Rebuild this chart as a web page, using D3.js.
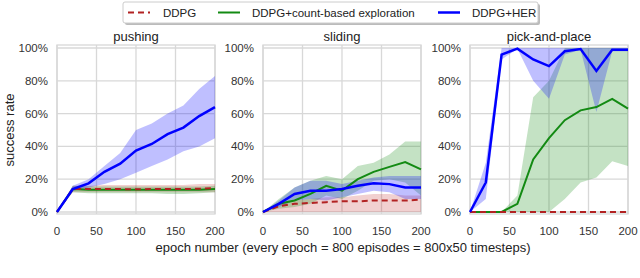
<!DOCTYPE html>
<html>
<head>
<meta charset="utf-8">
<script src="https://cdn.jsdelivr.net/npm/d3@7"></script>
<style>
  body { margin: 0; background: #fff; }
  svg { display: block; font-family: "Liberation Sans", Arial, sans-serif; }
</style>
</head>
<body>
<div id="chart"></div>
<script>
// epochs sampled every 20
const epochs = [0, 20, 40, 60, 80, 100, 120, 140, 160, 180, 200];
const xTicks = [0, 50, 100, 150, 200];
const yTicks = [0, 0.2, 0.4, 0.6, 0.8, 1.0];
const taskNames = ['pushing', 'sliding', 'pick-and-place'];
const seriesNames = ['DDPG', 'DDPG+count-based exploration', 'DDPG+HER'];

// pushing
const pushDdpg      = [0, 14, 14, 14, 14, 13.8, 14, 14, 14, 14.2, 14.5];
const pushDdpgLo    = [0, 12, 12, 12, 12, 12, 12, 12, 12, 12, 12];
const pushDdpgHi    = [0, 16, 16, 16.5, 16.5, 16.5, 16.5, 16.5, 16.5, 17, 17];
const pushCount     = [0, 14, 13.5, 13.5, 13.5, 13.5, 13.5, 13.5, 13.5, 13.5, 14];
const pushCountLo   = [0, 12, 11.5, 11.5, 11.5, 11.5, 11.5, 11, 11, 11.5, 12];
const pushCountHi   = [0, 16, 15.5, 15.5, 15.5, 15.5, 15.5, 15.5, 15.5, 15.5, 16];
const pushHer       = [0, 14, 17.5, 24.5, 29.5, 37.5, 41.5, 47.5, 51.5, 58.5, 64];
const pushHerLo     = [0, 13, 15, 17, 20, 24, 28, 32, 37, 40, 45];
const pushHerHi     = [0, 16, 20, 28, 36, 50, 54, 60, 65, 75, 83];

// sliding
const slideDdpg     = [0, 3.5, 5, 5.5, 6, 6.5, 6.5, 7, 7, 7, 7.5];
const slideDdpgLo   = [0, 0, 0, 0, 0, 0, 0, 0, 0, 0, 0];
const slideDdpgHi   = [0, 5, 7, 8, 9, 9, 10, 11, 11, 10, 10];
const slideCount    = [0, 5, 7, 11, 16, 13, 20, 24.5, 27.5, 30.5, 26];
const slideCountLo  = [0, 2, 3, 5, 10, 8, 13, 19, 20, 18, 10];
const slideCountHi  = [0, 8, 15, 19, 22, 20, 28, 30, 35, 43, 43];
const slideHer      = [0, 5, 11, 13, 13, 14, 16, 17.5, 17, 15, 15];
const slideHerLo    = [0, 3, 7, 8, 7, 9, 11, 13, 12, 8, 8];
const slideHerHi    = [0, 7, 15, 19, 19, 17, 19, 21, 22, 22, 22];

// pick-and-place
const pickDdpg      = [0, 0, 0, 0, 0, 0, 0, 0, 0, 0, 0];
const pickDdpgLo    = [0, 0, 0, 0, 0, 0, 0, 0, 0, 0, 0];
const pickDdpgHi    = [0, 0, 0, 0, 0, 0, 0, 0, 0, 0, 0];
const pickCount     = [0, 0, 0, 5, 32, 45, 56, 62, 64, 69, 63];
const pickCountLo   = [0, 0, 0, 0, 0, 0, 8, 18, 21, 31, 28];
const pickCountHi   = [0, 0, 0, 10, 70, 80, 100, 100, 100, 100, 100];
const pickHer       = [0, 18, 96, 99.6, 93, 89, 98, 99.4, 86, 99, 99];
const pickHerLo     = [0, 8, 93, 99.5, 80, 69, 96, 99, 61, 98, 98];
const pickHerHi     = [0, 30, 100, 100, 100, 100, 100, 100, 100, 100, 100];

const panels = [
  [[pushDdpg, pushDdpgLo, pushDdpgHi], [pushCount, pushCountLo, pushCountHi], [pushHer, pushHerLo, pushHerHi]],
  [[slideDdpg, slideDdpgLo, slideDdpgHi], [slideCount, slideCountLo, slideCountHi], [slideHer, slideHerLo, slideHerHi]],
  [[pickDdpg, pickDdpgLo, pickDdpgHi], [pickCount, pickCountLo, pickCountHi], [pickHer, pickHerLo, pickHerHi]]
];

const lineColors = ['#b22222', '#138a13', '#0000ff'];
const fillColors = ['rgba(190,40,40,0.22)', 'rgba(20,140,20,0.25)', 'rgba(0,0,255,0.25)'];
const lineWidths = [2, 2, 2.5];

const W = 640, H = 278;
const svg = d3.select('#chart').append('svg').attr('width', W).attr('height', H);

const panelLeft = [57, 263, 470];
const panelW = 158;
const y = d3.scaleLinear().domain([0, 1]).range([212, 48]);
const grid = '#d8d8d8';

panelLeft.forEach((left, p) => {
  const x = d3.scaleLinear().domain([0, 200]).range([left, left + panelW]);
  const g = svg.append('g');

  // gridlines
  g.selectAll('.gy').data(yTicks).enter().append('line')
    .attr('x1', left).attr('x2', left + panelW)
    .attr('y1', d => y(d)).attr('y2', d => y(d))
    .attr('stroke', grid).attr('stroke-width', 1.3);
  g.selectAll('.gx').data(xTicks).enter().append('line')
    .attr('x1', d => x(d)).attr('x2', d => x(d))
    .attr('y1', 45).attr('y2', 214)
    .attr('stroke', grid).attr('stroke-width', 1.3);
  // frame
  g.append('rect').attr('x', left).attr('y', 45).attr('width', panelW).attr('height', 169)
    .attr('fill', 'none').attr('stroke', grid).attr('stroke-width', 1.3);

  // tick labels
  g.selectAll('.ty').data(yTicks).enter().append('text')
    .attr('x', left - 9).attr('y', d => y(d) + 4)
    .attr('text-anchor', 'end').attr('font-size', 11.5).attr('fill', '#333')
    .text(d => Math.round(d * 100) + '%');
  g.selectAll('.tx').data(xTicks).enter().append('text')
    .attr('x', d => x(d)).attr('y', 235)
    .attr('text-anchor', 'middle').attr('font-size', 11.5).attr('fill', '#333')
    .text(d => d);

  // title
  g.append('text').attr('x', left + panelW / 2).attr('y', 41)
    .attr('text-anchor', 'middle').attr('font-size', 13).attr('fill', '#222')
    .text(taskNames[p]);

  const area = d3.area().x((d, i) => x(epochs[i])).y0(d => y(d[0] / 100)).y1(d => y(d[1] / 100));
  const line = d3.line().x((d, i) => x(epochs[i])).y(d => y(d / 100));

  // bands
  panels[p].forEach((s, k) => {
    const pts = s[1].map((lo, i) => [lo, s[2][i]]);
    g.append('path').datum(pts).attr('d', area)
      .attr('fill', fillColors[k]).attr('stroke', 'none');
  });
  // mean lines: green, then red dashed, then blue on top
  [1, 0, 2].forEach(k => {
    g.append('path').datum(panels[p][k][0]).attr('d', line)
      .attr('fill', 'none').attr('stroke', lineColors[k])
      .attr('stroke-width', lineWidths[k])
      .attr('stroke-dasharray', k === 0 ? '6,4' : null);
  });
});

// axis labels
svg.append('text').attr('transform', 'translate(14,130) rotate(-90)')
  .attr('text-anchor', 'middle').attr('font-size', 13).attr('fill', '#222')
  .text('success rate');
svg.append('text').attr('x', 343).attr('y', 252)
  .attr('text-anchor', 'middle').attr('font-size', 13).attr('fill', '#222')
  .text('epoch number (every epoch = 800 episodes = 800x50 timesteps)');

// legend
const legend = svg.append('g');
legend.append('rect').attr('x', 125).attr('y', 4).attr('width', 415).attr('height', 21)
  .attr('fill', '#bbb').attr('rx', 2);
legend.append('rect').attr('x', 123).attr('y', 2).attr('width', 415).attr('height', 21)
  .attr('fill', '#fff').attr('stroke', '#ccc').attr('rx', 2);
const legX = [128, 218, 438];
const legTextX = [163, 252, 472];
seriesNames.forEach((name, k) => {
  legend.append('line').attr('x1', legX[k]).attr('x2', legX[k] + 22)
    .attr('y1', 12.5).attr('y2', 12.5)
    .attr('stroke', lineColors[k]).attr('stroke-width', lineWidths[k])
    .attr('stroke-dasharray', k === 0 ? '6,4' : null);
  legend.append('text').attr('x', legTextX[k]).attr('y', 16.5)
    .attr('font-size', 11.5).attr('fill', '#222').text(name);
});
</script>
</body>
</html>
